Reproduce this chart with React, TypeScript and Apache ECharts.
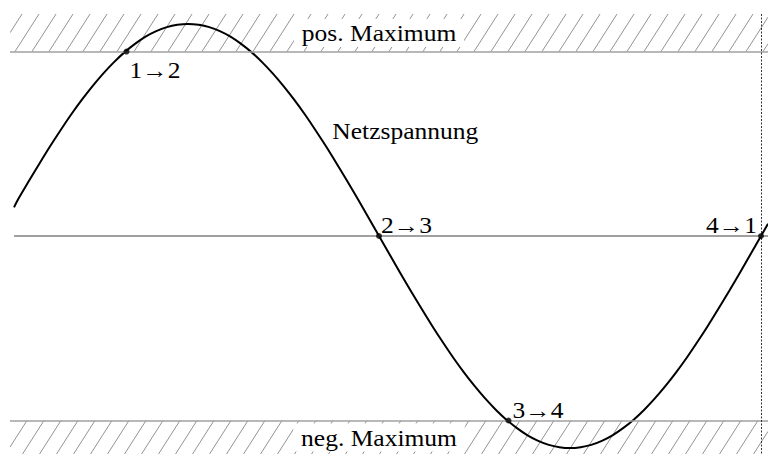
import React, { useEffect, useRef } from "react";
import * as echarts from "echarts";

// Phase angle (degrees) and normalised mains voltage
const curveX = [8, 10, 15, 20, 25, 30, 35, 40, 45, 50, 55, 60, 65, 70, 75, 80, 85, 90, 95, 100, 105, 110, 115, 120,
  125, 130, 135, 140, 145, 150, 155, 160, 165, 170, 175, 180, 185, 190, 195, 200, 205, 210, 215, 220, 225, 230,
  235, 240, 245, 250, 255, 260, 265, 270, 275, 280, 285, 290, 295, 300, 305, 310, 315, 320, 325, 330, 335, 340,
  345, 350, 355, 360, 363.3];
const curveY = [0.135, 0.174, 0.259, 0.342, 0.423, 0.5, 0.574, 0.643, 0.707, 0.766, 0.819, 0.866, 0.906, 0.94, 0.966,
  0.985, 0.996, 1.0, 0.996, 0.985, 0.966, 0.94, 0.906, 0.866, 0.819, 0.766, 0.707, 0.643, 0.574, 0.5, 0.423, 0.342,
  0.259, 0.174, 0.087, 0, -0.087, -0.174, -0.259, -0.342, -0.423, -0.5, -0.574, -0.643, -0.707, -0.766, -0.819,
  -0.866, -0.906, -0.94, -0.966, -0.985, -0.996, -1.0, -0.996, -0.985, -0.966, -0.94, -0.906, -0.866, -0.819, -0.766,
  -0.707, -0.643, -0.574, -0.5, -0.423, -0.342, -0.259, -0.174, -0.087, 0, 0.058];

// limit level (positive / negative maximum)
const maxLevel = 0.87;

// transition points
const transNames = ["1→2", "2→3", "3→4", "4→1"];
const transX = [61, 180, 241, 360];
const transY = [0.87, 0, -0.87, 0];

// free text labels
const textNames = ["pos. Maximum", "neg. Maximum", "Netzspannung"];
const textX = [180, 180, 158];
const textY = [0.957, -0.95, 0.495];

const X_MIN = 6.1;
const X_MAX = 363.3;
const Y_MIN = -1.028;
const Y_MAX = 1.113;
const HATCH_TOP = 1.047;

const FONT_FAMILY = "Liberation Serif";
const FONT_SIZE = 23;
const STRETCH = 1.11;

export default function App() {
  const ref = useRef<HTMLDivElement>(null);
  useEffect(() => {
    if (!ref.current) return;
    const chart = echarts.init(ref.current, null, { renderer: "svg" });

    const bands = [
      [X_MIN, X_MAX, maxLevel, HATCH_TOP],
      [X_MIN, X_MAX, Y_MIN, -maxLevel],
    ];

    const renderHatch = (params: any, api: any) => {
      const x0 = api.value(0), x1 = api.value(1), y0 = api.value(2), y1 = api.value(3);
      const tl = api.coord([x0, y1]);
      const br = api.coord([x1, y0]);
      const L = tl[0], R = br[0], T = tl[1], B = br[1];
      const h = B - T;
      const s = 0.64;
      const gap = 17;
      const phase = params.dataIndex === 0 ? 15 : 10 - s * h;
      const children: any[] = [];
      let start = phase;
      while (start > L - s * h - gap) start -= gap;
      for (let xb = start; xb < R; xb += gap) {
        let ax = xb, ay = B, bx = xb + s * h, by = T;
        if (ax < L) { ay = B - (L - ax) / s; ax = L; }
        if (bx > R) { by = T + (bx - R) / s; bx = R; }
        if (ax >= bx) continue;
        children.push({
          type: "line",
          shape: { x1: ax, y1: ay, x2: bx, y2: by },
          style: { stroke: "#939393", lineWidth: 1 },
        });
      }
      return { type: "group", children };
    };

    const transData = transNames.map((n, i) => ({ name: n, value: [transX[i], transY[i]] }));

    chart.setOption({
      animation: false,
      backgroundColor: "#fff",
      grid: { left: 10, right: 0, top: 0, bottom: 0 },
      xAxis: {
        type: "value", min: X_MIN, max: X_MAX,
        axisLine: { show: false }, axisTick: { show: false }, axisLabel: { show: false }, splitLine: { show: false },
      },
      yAxis: {
        type: "value", min: Y_MIN, max: Y_MAX,
        axisLine: { show: false }, axisTick: { show: false }, axisLabel: { show: false }, splitLine: { show: false },
      },
      series: [
        {
          type: "custom",
          renderItem: renderHatch,
          data: bands,
          silent: true,
          clip: true,
          z: 1,
        },
        {
          type: "line",
          data: [],
          z: 2,
          silent: true,
          markLine: {
            silent: true,
            symbol: "none",
            label: { show: false },
            data: [
              [{ coord: [X_MIN, maxLevel], lineStyle: { color: "#a0a0a0", width: 1.5, type: "solid" } }, { coord: [X_MAX, maxLevel] }],
              [{ coord: [X_MIN, -maxLevel], lineStyle: { color: "#a0a0a0", width: 1.5, type: "solid" } }, { coord: [X_MAX, -maxLevel] }],
              [{ coord: [8, 0], lineStyle: { color: "#808080", width: 1.5, type: "solid" } }, { coord: [X_MAX, 0] }],
              [{ coord: [360, HATCH_TOP], lineStyle: { color: "#333", width: 1, type: [2, 1.5] } }, { coord: [360, Y_MIN] }],
            ],
          },
        },
        {
          type: "line",
          data: curveX.map((x, i) => [x, curveY[i]]),
          smooth: 0.3,
          showSymbol: false,
          symbol: "none",
          lineStyle: { color: "#000", width: 2 },
          z: 4,
          silent: true,
        },
        {
          type: "scatter",
          data: transData,
          symbol: "circle",
          symbolSize: 6,
          itemStyle: { color: "#000" },
          z: 5,
          silent: true,
        },
      ],
    });

    const px = (x: number, y: number) => chart.convertToPixel({ xAxisIndex: 0, yAxisIndex: 0 }, [x, y]) as number[];
    const font = `${FONT_SIZE}px '${FONT_FAMILY}', 'Times New Roman', serif`;
    const mkText = (text: string, x: number, y: number, align: string, bg?: boolean) => ({
      type: "text",
      x, y,
      scaleX: STRETCH,
      z: 100,
      silent: true,
      style: {
        text,
        font,
        fill: "#000",
        align, verticalAlign: "middle",
        textAlign: align, textVerticalAlign: "middle",
        ...(bg ? { backgroundColor: "#fff", padding: [3, 7, 2, 7] } : {}),
      },
    });

    const graphics: any[] = [];
    textNames.forEach((n, i) => {
      const p = px(textX[i], textY[i]);
      graphics.push(mkText(n, p[0], p[1], i < 2 ? "center" : "left", i < 2));
    });
    const offs = [[3, 18, "left"], [2, -11, "left"], [4, -11, "left"], [-4, -11, "right"]] as any[];
    transNames.forEach((n, i) => {
      const p = px(transX[i], transY[i]);
      graphics.push(mkText(n, p[0] + offs[i][0], p[1] + offs[i][1], offs[i][2]));
    });
    chart.setOption({ graphic: graphics });

    return () => chart.dispose();
  }, []);
  return <div ref={ref} style={{ position: "fixed", left: 0, top: 0, width: 768, height: 454, background: "#fff" }} />;
}
